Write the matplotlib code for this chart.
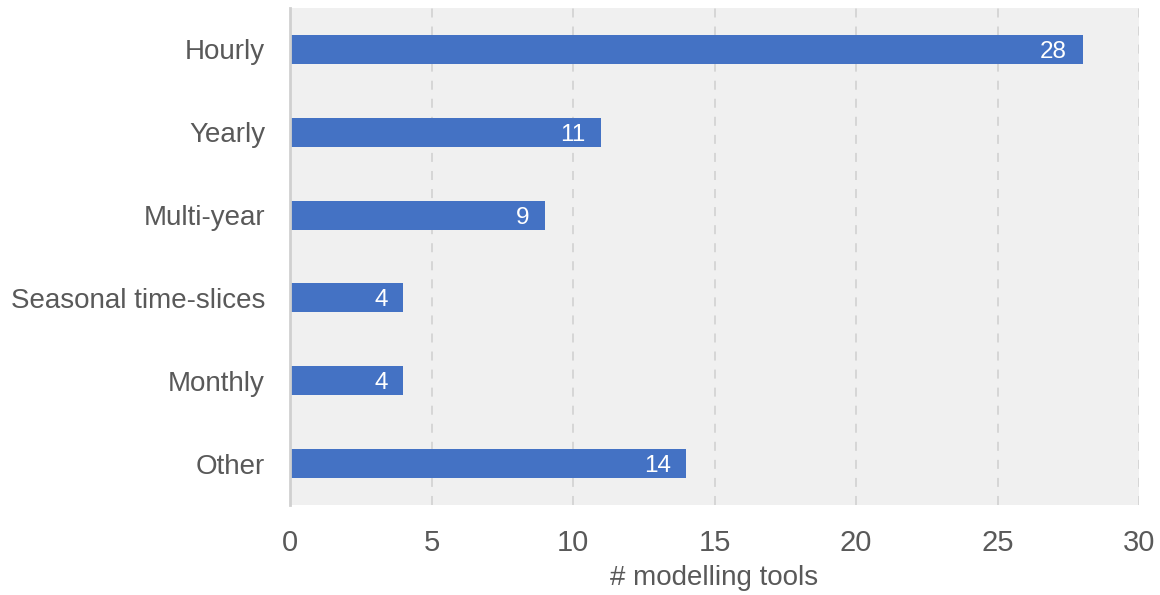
import matplotlib
matplotlib.use('Agg')
import matplotlib.pyplot as plt

categories = ['Hourly', 'Yearly', 'Multi-year', 'Seasonal time-slices', 'Monthly', 'Other']
counts = [28, 11, 9, 4, 4, 14]
xticks = [0, 5, 10, 15, 20, 25, 30]

plt.rcParams['font.family'] = ['Liberation Sans', 'DejaVu Sans']

fig = plt.figure(figsize=(11.6, 5.95), dpi=100)
ax = fig.add_axes([0.25, 0.1513, 0.732, 0.8353])
ax.set_facecolor('#f0f0f0')

pos = list(range(len(categories)))
bars = ax.barh(pos, counts, height=0.35, color='#4472c4', zorder=3)
for b, v in zip(bars, counts):
    ax.text(b.get_width() - 0.55, b.get_y() + b.get_height() / 2, str(v),
            ha='right', va='center_baseline', color='white', fontsize=17.5, zorder=4)

ax.set_yticks(pos)
ax.set_yticklabels(categories)
ax.set_ylim(len(categories) - 0.5, -0.5)
ax.set_xlim(0, 30)
ax.set_xticks(xticks)

ax.grid(axis='x', color='#d4d4d4', linestyle=(0, (5, 5)), linewidth=1.3, zorder=1)
for s in ['top', 'right', 'bottom']:
    ax.spines[s].set_visible(False)
ax.spines['left'].set_color('#d0d0d0')
ax.spines['left'].set_linewidth(2)
ax.spines['left'].set_zorder(5)

ax.tick_params(axis='both', length=0, labelcolor='#595959')
ax.tick_params(axis='y', pad=18, labelsize=20)
ax.tick_params(axis='x', pad=17, labelsize=21)
ax.set_xlabel('# modelling tools', fontsize=20, color='#595959', labelpad=6)

plt.savefig('out.png', dpi=100)
plt.close()
